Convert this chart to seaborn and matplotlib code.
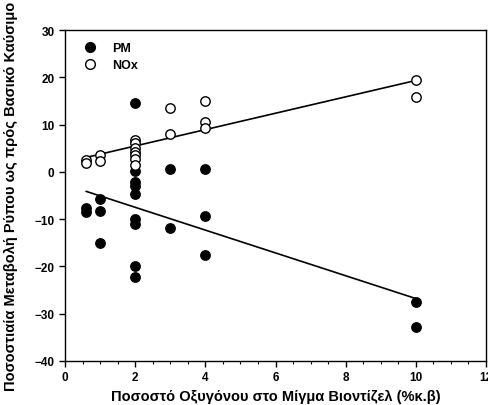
import matplotlib
matplotlib.use("Agg")
import matplotlib.pyplot as plt
import seaborn as sns
import pandas as pd
from matplotlib.lines import Line2D
from matplotlib.ticker import MultipleLocator

sns.set_style("ticks")
plt.rcParams['font.family'] = ['Liberation Sans', 'DejaVu Sans']
plt.rcParams.update({"text.color": "black", "axes.labelcolor": "black",
                     "xtick.color": "black", "ytick.color": "black",
                     "axes.edgecolor": "black"})

# Data
pm_x = [0.6, 0.6, 1, 1, 1, 2, 2, 2, 2, 2, 2, 2, 2, 2, 3, 3, 4, 4, 4, 10, 10]
pm_y = [-7.7, -8.4, -5.7, -8.2, -15.1, 14.5, 0.2, -2.1, -2.9, -4.7, -9.9, -11.0, -20.0, -22.2,
        0.5, -11.9, 0.5, -9.3, -17.5, -27.6, -32.8]
nox_x = [0.6, 0.6, 1, 1, 2, 2, 2, 2, 2, 2, 2, 3, 3, 4, 4, 4, 10, 10]
nox_y = [2.5, 1.8, 3.6, 2.4, 6.8, 6.0, 5.0, 4.3, 3.5, 2.8, 1.5, 13.5, 8.0, 15.0, 10.5, 9.2, 19.5, 15.8]
series_labels = ["PM", "NOx"]
x_ticks = [0, 2, 4, 6, 8, 10, 12]
y_ticks = [-40, -30, -20, -10, 0, 10, 20, 30]

pm = pd.DataFrame({"x": pm_x, "y": pm_y})
nox = pd.DataFrame({"x": nox_x, "y": nox_y})

fig = plt.figure(figsize=(4.88, 4.06), dpi=100)
ax = fig.add_axes([65 / 488, 1 - 362 / 406, (486 - 65) / 488, (362 - 31) / 406])

sns.regplot(data=pm, x="x", y="y", ax=ax, ci=None, color="black", truncate=True,
            scatter_kws={"s": 46, "alpha": 1, "facecolors": "black", "edgecolors": "black",
                         "linewidths": 1.0, "zorder": 3},
            line_kws={"linewidth": 1.2, "color": "black"})
sns.regplot(data=nox, x="x", y="y", ax=ax, ci=None, color="black", truncate=True,
            scatter_kws={"s": 46, "alpha": 1, "facecolors": "white", "edgecolors": "black",
                         "linewidths": 1.0, "zorder": 3},
            line_kws={"linewidth": 1.2, "color": "black"})

ax.set_xlim(0, 12)
ax.set_ylim(-40, 30)
ax.set_xticks(x_ticks)
ax.set_yticks(y_ticks)
ax.xaxis.set_minor_locator(MultipleLocator(0.5))
ax.tick_params(axis="both", which="major", direction="out", length=4, width=1, labelsize=8.5)
ax.tick_params(axis="x", which="minor", direction="out", length=2, width=0.8)
for lab in ax.get_xticklabels() + ax.get_yticklabels():
    lab.set_fontweight("bold")
for sp in ax.spines.values():
    sp.set_visible(True)
    sp.set_linewidth(1.0)
    sp.set_color("black")

ax.set_xlabel("Ποσοστό Οξυγόνου στο Μίγμα Βιοντίζελ (%κ.β)", fontsize=10.5, fontweight="bold", labelpad=4)
ax.set_ylabel("Ποσοστιαία Μεταβολή Ρύπου ως πρός Βασικό Καύσιμο", fontsize=10.5, fontweight="bold", labelpad=12)

handles = [
    Line2D([], [], linestyle="none", marker="o", markersize=7, markerfacecolor="black", markeredgecolor="black"),
    Line2D([], [], linestyle="none", marker="o", markersize=7, markerfacecolor="white", markeredgecolor="black"),
]
ax.legend(handles, series_labels, loc="upper left", frameon=False,
          prop={"weight": "bold", "size": 9}, handletextpad=0.8, borderaxespad=0.6,
          labelspacing=0.35)

fig.savefig("out.png", dpi=100)
